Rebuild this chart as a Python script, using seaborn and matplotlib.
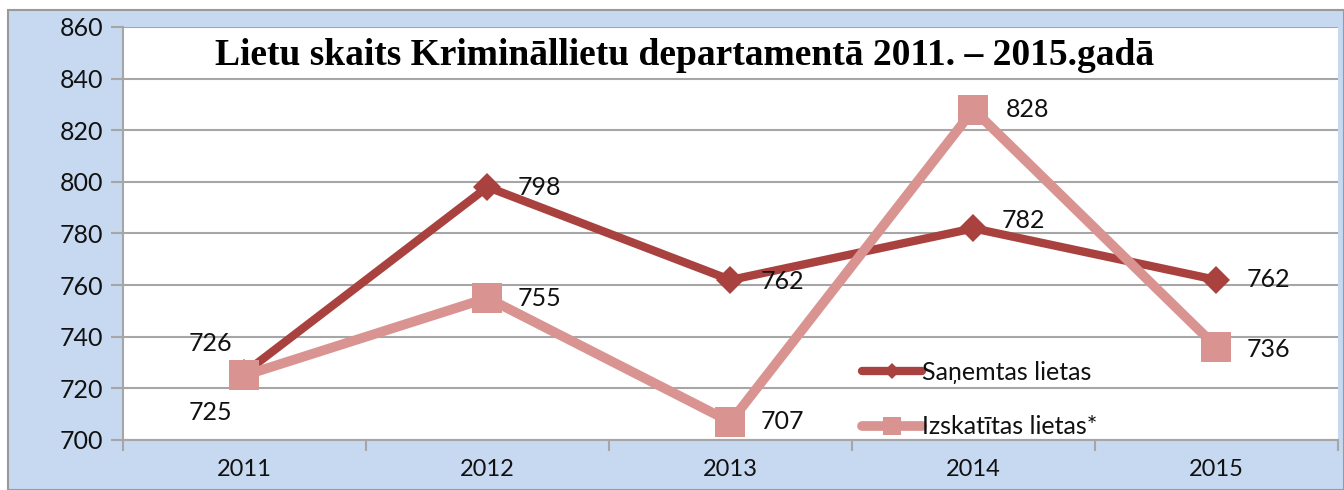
import pandas as pd
import seaborn as sns
import matplotlib.pyplot as plt
from matplotlib.patches import Rectangle

years = ["2011", "2012", "2013", "2014", "2015"]
sanemtas = [726, 798, 762, 782, 762]
izskatitas = [725, 755, 707, 828, 736]
series_names = ["Saņemtas lietas", "Izskatītas lietas*"]
title = "Lietu skaits Krimināllietu departamentā 2011. – 2015.gadā"
y_ticks = [700, 720, 740, 760, 780, 800, 820, 840, 860]

# label offsets in pixels (dx, dy, ha)
off_san = [(-12, 29, "right"), (30, 0, "left"), (30, -2, "left"), (28, 8, "left"), (30, 0, "left")]
off_izs = [(-12, -37, "right"), (30, 0, "left"), (30, 0, "left"), (32, 0, "left"), (30, -2, "left")]

dark = "#A9423F"
pink = "#D99391"
bg = "#C6D9F1"
grid_c = "#A6A6A6"
txt = "#111111"

sns.set_theme(style="white")
plt.rcParams["font.family"] = ["Lato", "DejaVu Sans"]

fig = plt.figure(figsize=(13.44, 4.9), dpi=100)
fig.patch.set_facecolor("white")
fig.patches.append(Rectangle((8 / 1344, 0), 1 - 8 / 1344, 1 - 10 / 490, transform=fig.transFigure,
                             facecolor=bg, edgecolor="#9A9A9A", linewidth=1.5, zorder=-10))
ax = fig.add_axes([123 / 1344, 50 / 490, 1215 / 1344, 413 / 490])
ax.set_zorder(1)
ax.set_facecolor("white")

df1 = pd.DataFrame({"Year": years, "Value": sanemtas})
df2 = pd.DataFrame({"Year": years, "Value": izskatitas})

sns.lineplot(data=df1, x="Year", y="Value", ax=ax, color=dark, linewidth=6, marker="D",
             markersize=14, markeredgewidth=0, label=series_names[0], zorder=3)
sns.lineplot(data=df2, x="Year", y="Value", ax=ax, color=pink, linewidth=7, marker="s",
             markersize=22, markeredgewidth=0, label=series_names[1], zorder=4)

px = 0.72
for vals, offs in ((sanemtas, off_san), (izskatitas, off_izs)):
    for i, (v, (dx, dy, ha)) in enumerate(zip(vals, offs)):
        ax.annotate(str(v), (i, v), xytext=(dx * px, dy * px), textcoords="offset points",
                    ha=ha, va="center", fontsize=18, color=txt, zorder=5)

ax.set_xlim(-0.5, len(years) - 0.5)
ax.set_ylim(y_ticks[0], y_ticks[-1])
ax.set_yticks(y_ticks)
ax.set_xticks(range(len(years)))
ax.set_xticklabels(years)
ax.set_xticks([i - 0.5 for i in range(len(years) + 1)], minor=True)
ax.tick_params(axis="x", which="major", length=0, labelsize=17, pad=14, labelcolor=txt)
ax.tick_params(axis="x", which="minor", length=8, width=1.5, color=grid_c, bottom=True)
ax.tick_params(axis="y", which="major", length=9, width=1.5, color=grid_c, labelsize=18, pad=5,
               left=True, labelcolor=txt)
ax.grid(axis="y", color=grid_c, linewidth=1.5)
ax.set_axisbelow(True)
ax.set_xlabel("")
ax.set_ylabel("")
for s in ["top", "right"]:
    ax.spines[s].set_visible(False)
for s in ["left", "bottom"]:
    ax.spines[s].set_color(grid_c)
    ax.spines[s].set_linewidth(1.5)

ax.text(0.4626, 0.93, title, transform=ax.transAxes, ha="center", va="center", color="black",
        fontsize=27, fontweight="bold", family=["Liberation Serif", "DejaVu Serif"], zorder=6)

leg = ax.legend(loc="lower left", bbox_to_anchor=(0.6, -0.02), frameon=False, fontsize=18,
                handlelength=2.4, handletextpad=0.0, labelspacing=1.26, borderaxespad=0.0,
                markerscale=0.6)
for t in leg.get_texts():
    t.set_color(txt)

fig.savefig("out.png", dpi=100)
